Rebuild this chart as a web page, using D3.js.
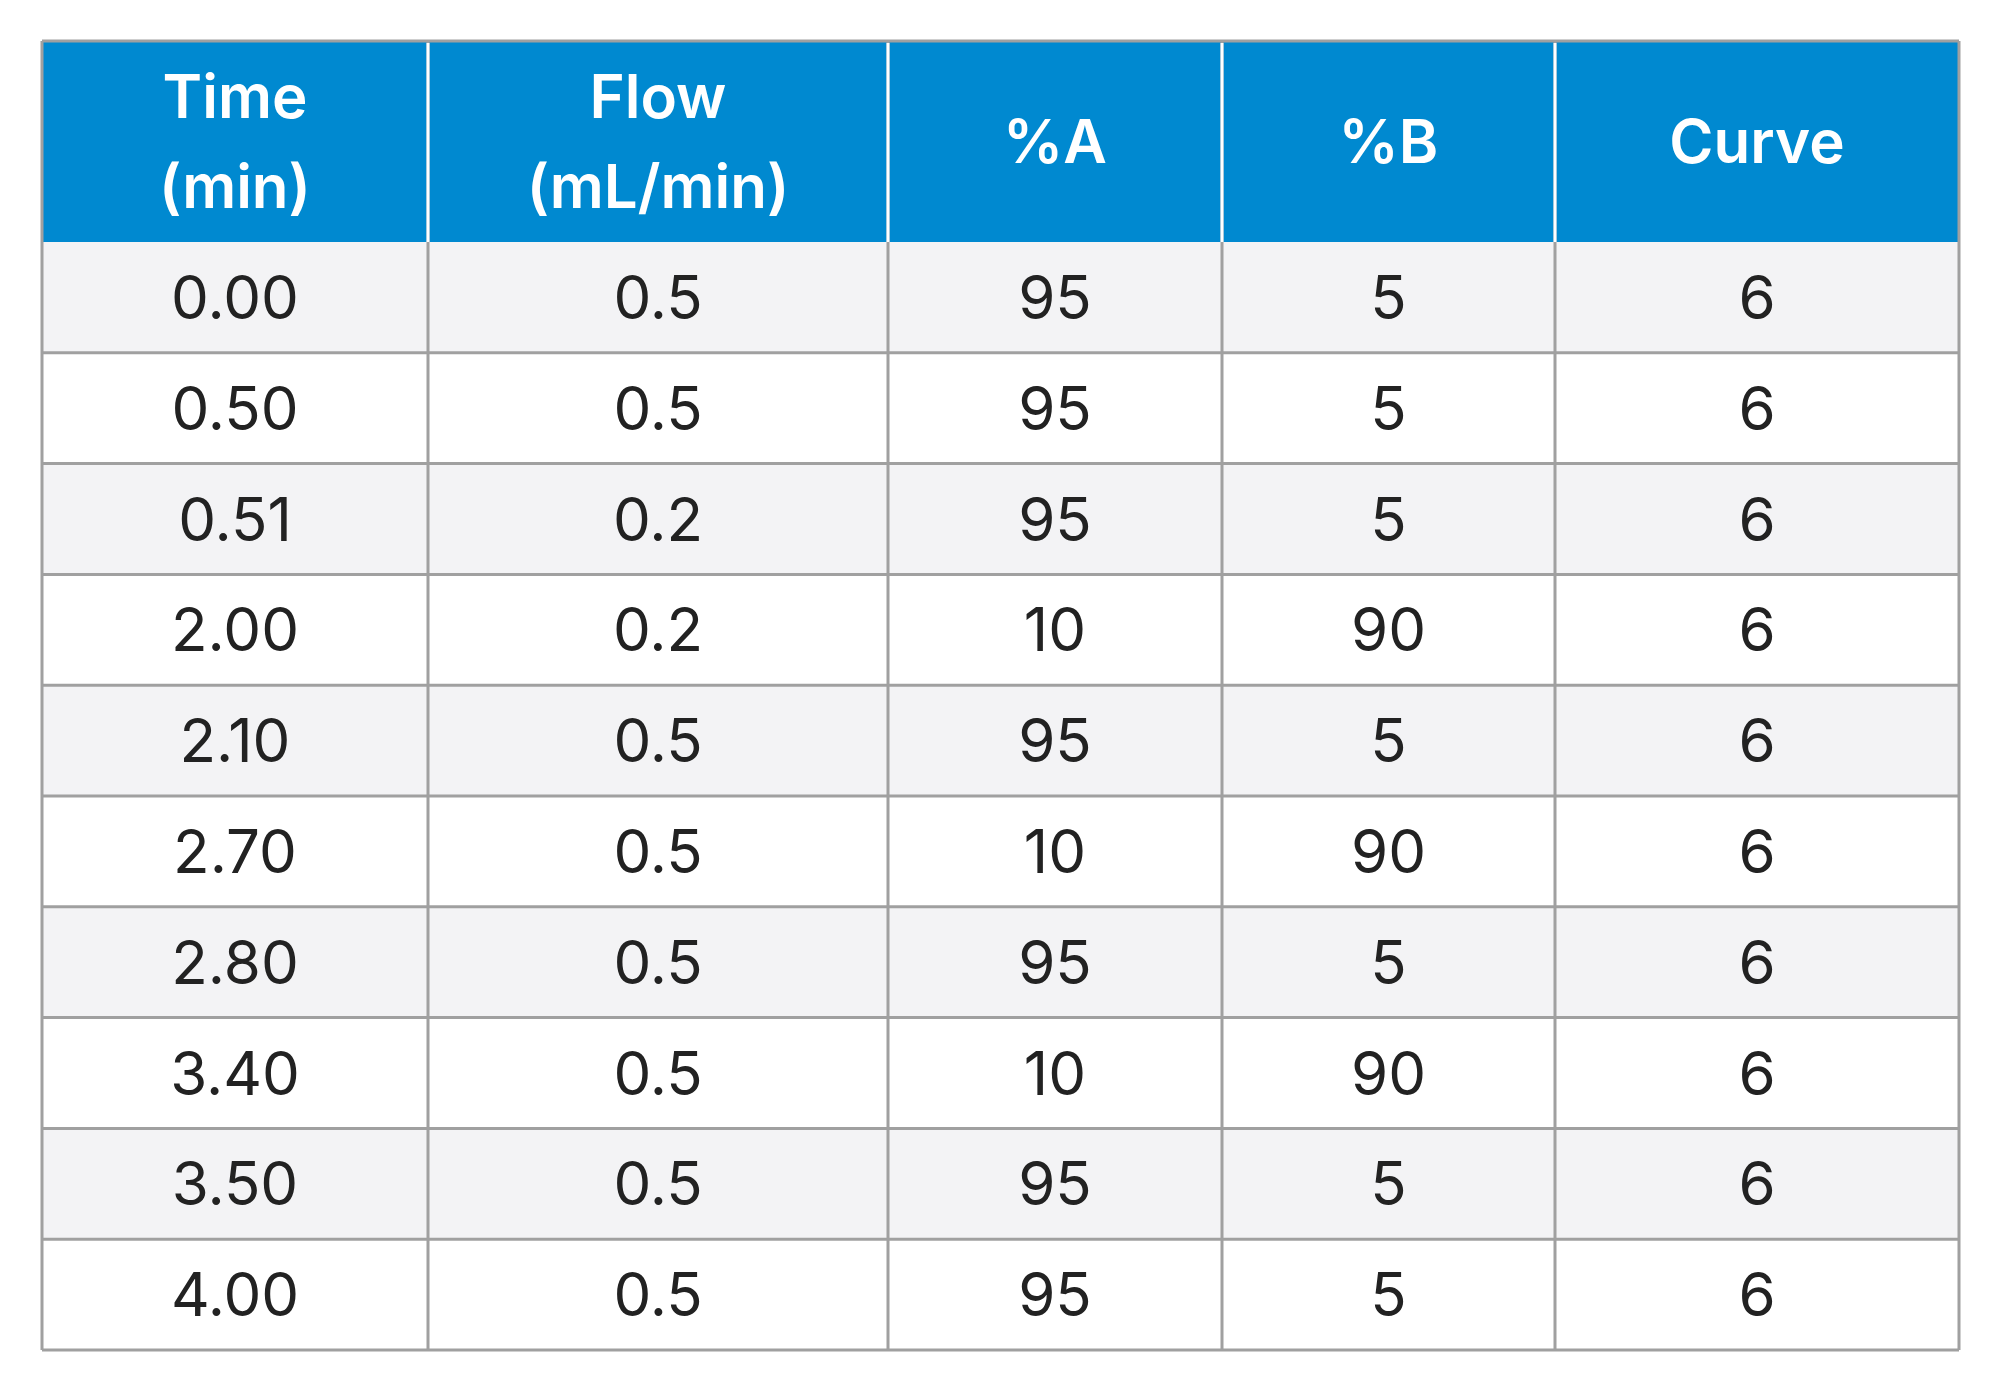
<!DOCTYPE html>
<html><head><meta charset="utf-8">
<script src="https://cdn.jsdelivr.net/npm/d3@7"></script>
<style>body{margin:0;background:#fff}</style></head>
<body><svg id="c" width="2000" height="1390"></svg>
<script>
const headers = [["Time","(min)"],["Flow","(mL/min)"],["%A"],["%B"],["Curve"]];
const time = ["0.00","0.50","0.51","2.00","2.10","2.70","2.80","3.40","3.50","4.00"];
const flow = ["0.5","0.5","0.2","0.2","0.5","0.5","0.5","0.5","0.5","0.5"];
const pctA = ["95","95","95","10","95","10","95","10","95","95"];
const pctB = ["5","5","5","90","5","90","5","90","5","5"];
const curve = ["6","6","6","6","6","6","6","6","6","6"];

(function(){
const cols = [time, flow, pctA, pctB, curve];
const edges = [42, 428, 888, 1222, 1555, 1959];
const svg = d3.select("#c");
const font = "Inter, 'Liberation Sans', sans-serif";
const top0 = 41, headH = 201, rowH = 110.8;
const rows = d3.range(time.length);
const y = d3.scaleBand().domain(rows).range([top0+headH, top0+headH+rowH*rows.length]);

svg.append("rect").attr("x",edges[0]).attr("y",top0).attr("width",edges[5]-edges[0]).attr("height",headH).attr("fill","#0089d0");
svg.selectAll("rect.row").data(rows).join("rect")
  .attr("x",edges[0]).attr("y",d=>y(d)).attr("width",edges[5]-edges[0]).attr("height",y.bandwidth())
  .attr("fill",d=>d%2===0?"#f3f3f5":"#ffffff");

headers.forEach((h,i)=>{
  const cx=(edges[i]+edges[i+1])/2;
  const cy=top0+headH/2;
  h.forEach((t,j)=>{
    svg.append("text").attr("x",cx).attr("y",cy+(j-(h.length-1)/2)*90).attr("dy","0.36em")
      .attr("text-anchor","middle").attr("fill","#fff").attr("font-family",font)
      .attr("font-weight","600").attr("font-size",60).text(t);
  });
});
cols.forEach((c,i)=>{
  const cx=(edges[i]+edges[i+1])/2;
  svg.selectAll(null).data(c).join("text").attr("x",cx).attr("y",(d,k)=>y(k)+y.bandwidth()/2).attr("dy","0.36em")
    .attr("text-anchor","middle").attr("fill","#222").attr("font-family",font).attr("font-size",60).text(d=>d);
});
const g = svg.append("g").attr("stroke","#a0a0a0").attr("stroke-width",3);
rows.forEach(r=>g.append("line").attr("x1",edges[0]).attr("x2",edges[5]).attr("y1",y(r)+y.bandwidth()).attr("y2",y(r)+y.bandwidth()));
g.append("line").attr("x1",edges[0]).attr("x2",edges[5]).attr("y1",top0).attr("y2",top0);
edges.forEach(e=>{
  g.append("line").attr("x1",e).attr("x2",e).attr("y1",top0).attr("y2",top0+headH+rowH*rows.length);
});
edges.slice(1,5).forEach(e=>svg.append("line").attr("x1",e).attr("x2",e).attr("y1",top0+2).attr("y2",top0+headH).attr("stroke","#fff").attr("stroke-width",3));
})();
</script></body></html>
